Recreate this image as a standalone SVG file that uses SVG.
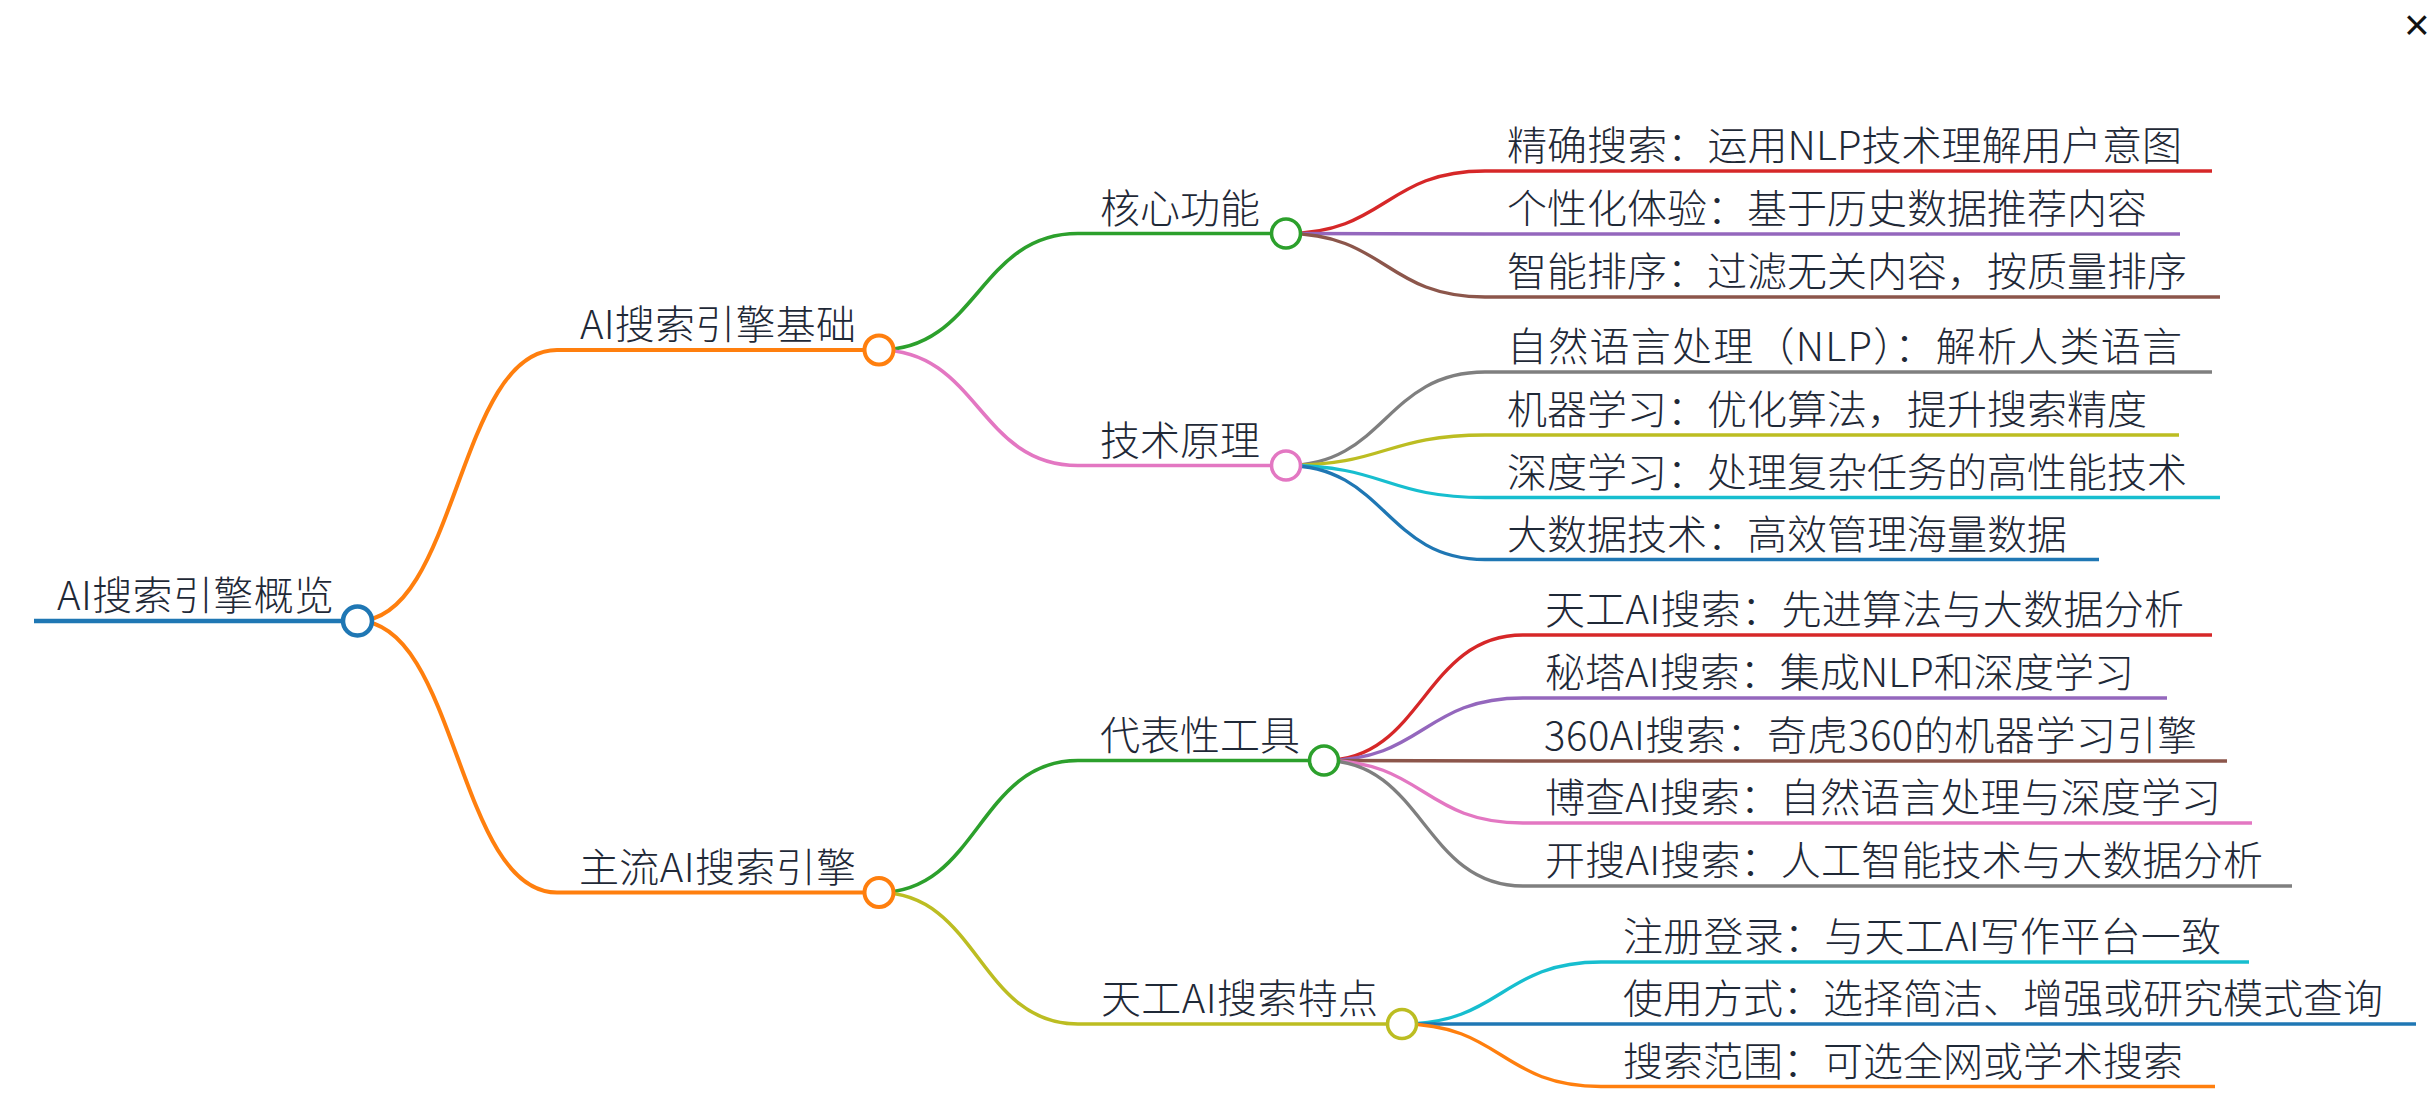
<svg xmlns="http://www.w3.org/2000/svg" width="2432" height="1098" viewBox="0 0 2432 1098">
<style>
text{font-family:"Noto Sans CJK SC","Noto Sans",sans-serif;font-size:40px;font-weight:200;fill:#1f2937}
.ln{fill:none;stroke-linecap:butt}
.lk{fill:none}
.c{fill:#fff}
.d0{stroke-width:4.5}.d1{stroke-width:4}.d2{stroke-width:3.6}.d3{stroke-width:3.3}
.blue{stroke:#1f77b4}.orange{stroke:#ff7f0e}.green{stroke:#2ca02c}.red{stroke:#d62728}.purple{stroke:#9467bd}.brown{stroke:#8c564b}.pink{stroke:#e377c2}.gray{stroke:#7f7f7f}.olive{stroke:#bcbd22}.cyan{stroke:#17becf}
</style>
<rect width="2432" height="1098" fill="#fff"/>
<g id="connectors">
<path class="lk d1 orange" d="M357.5,621 C457.25,621 457.25,350 557,350"/>
<path class="lk d1 orange" d="M357.5,621 C457.25,621 457.25,892.5 557,892.5"/>
<path class="lk d2 green" d="M879,350 C978.5,350 978.5,233.5 1078,233.5"/>
<path class="lk d2 pink" d="M879,350 C978.5,350 978.5,465.5 1078,465.5"/>
<path class="lk d2 green" d="M879,892.5 C978.5,892.5 978.5,760.5 1078,760.5"/>
<path class="lk d2 olive" d="M879,892.5 C978.5,892.5 978.5,1024 1078,1024"/>
<path class="lk d3 red" d="M1286,233.5 C1385.5,233.5 1385.5,171 1485,171"/>
<path class="lk d3 purple" d="M1286,233.5 C1385.5,233.5 1385.5,234 1485,234"/>
<path class="lk d3 brown" d="M1286,233.5 C1385.5,233.5 1385.5,297 1485,297"/>
<path class="lk d3 gray" d="M1286,465.5 C1385.5,465.5 1385.5,372 1485,372"/>
<path class="lk d3 olive" d="M1286,465.5 C1385.5,465.5 1385.5,435 1485,435"/>
<path class="lk d3 cyan" d="M1286,465.5 C1385.5,465.5 1385.5,497.5 1485,497.5"/>
<path class="lk d3 blue" d="M1286,465.5 C1385.5,465.5 1385.5,559.5 1485,559.5"/>
<path class="lk d3 red" d="M1324,760.5 C1423.5,760.5 1423.5,635 1523,635"/>
<path class="lk d3 purple" d="M1324,760.5 C1423.5,760.5 1423.5,698 1523,698"/>
<path class="lk d3 brown" d="M1324,760.5 C1423.5,760.5 1423.5,761 1523,761"/>
<path class="lk d3 pink" d="M1324,760.5 C1423.5,760.5 1423.5,823 1523,823"/>
<path class="lk d3 gray" d="M1324,760.5 C1423.5,760.5 1423.5,886 1523,886"/>
<path class="lk d3 cyan" d="M1402,1024 C1501.5,1024 1501.5,962 1601,962"/>
<path class="lk d3 blue" d="M1402,1024 C1501.5,1024 1501.5,1024 1601,1024"/>
<path class="lk d3 orange" d="M1402,1024 C1501.5,1024 1501.5,1086.5 1601,1086.5"/>
</g>
<g id="n-root"><line class="ln d0 blue" x1="34" y1="621" x2="357.5" y2="621"/><text x="57" y="610" textLength="277" lengthAdjust="spacing">AI搜索引擎概览</text><circle class="c d0 blue" cx="357.5" cy="621" r="14.5"/></g>
<g id="n-basics"><line class="ln d1 orange" x1="557" y1="350" x2="879" y2="350"/><text x="580" y="339" textLength="276" lengthAdjust="spacing">AI搜索引擎基础</text><circle class="c d1 orange" cx="879" cy="350" r="14.5"/></g>
<g id="n-mainstream"><line class="ln d1 orange" x1="557" y1="892.5" x2="879" y2="892.5"/><text x="579" y="881.5" textLength="277" lengthAdjust="spacing">主流AI搜索引擎</text><circle class="c d1 orange" cx="879" cy="892.5" r="14.5"/></g>
<g id="n-core"><line class="ln d2 green" x1="1078" y1="233.5" x2="1286" y2="233.5"/><text x="1100" y="222.5">核心功能</text><circle class="c d2 green" cx="1286" cy="233.5" r="14.5"/></g>
<g id="n-tech"><line class="ln d2 pink" x1="1078" y1="465.5" x2="1286" y2="465.5"/><text x="1100" y="454.5">技术原理</text><circle class="c d2 pink" cx="1286" cy="465.5" r="14.5"/></g>
<g id="n-tools"><line class="ln d2 green" x1="1078" y1="760.5" x2="1324" y2="760.5"/><text x="1100" y="749.5">代表性工具</text><circle class="c d2 green" cx="1324" cy="760.5" r="14.5"/></g>
<g id="n-tiangong"><line class="ln d2 olive" x1="1078" y1="1024" x2="1402" y2="1024"/><text x="1101" y="1013" textLength="277" lengthAdjust="spacing">天工AI搜索特点</text><circle class="c d2 olive" cx="1402" cy="1024" r="14.5"/></g>
<g id="n-c1"><line class="ln d3 red" x1="1485" y1="171" x2="2212" y2="171"/><text x="1507" y="160" textLength="675" lengthAdjust="spacing">精确搜索：运用NLP技术理解用户意图</text></g>
<g id="n-c2"><line class="ln d3 purple" x1="1485" y1="234" x2="2180" y2="234"/><text x="1507" y="223">个性化体验：基于历史数据推荐内容</text></g>
<g id="n-c3"><line class="ln d3 brown" x1="1485" y1="297" x2="2220" y2="297"/><text x="1507" y="286">智能排序：过滤无关内容，按质量排序</text></g>
<g id="n-t1"><line class="ln d3 gray" x1="1485" y1="372" x2="2212" y2="372"/><text x="1507" y="361" textLength="675" lengthAdjust="spacing">自然语言处理（NLP）：解析人类语言</text></g>
<g id="n-t2"><line class="ln d3 olive" x1="1485" y1="435" x2="2179" y2="435"/><text x="1507" y="424">机器学习：优化算法，提升搜索精度</text></g>
<g id="n-t3"><line class="ln d3 cyan" x1="1485" y1="497.5" x2="2220" y2="497.5"/><text x="1507" y="486.5">深度学习：处理复杂任务的高性能技术</text></g>
<g id="n-t4"><line class="ln d3 blue" x1="1485" y1="559.5" x2="2099" y2="559.5"/><text x="1507" y="548.5">大数据技术：高效管理海量数据</text></g>
<g id="n-s1"><line class="ln d3 red" x1="1523" y1="635" x2="2212" y2="635"/><text x="1545" y="624" textLength="639" lengthAdjust="spacing">天工AI搜索：先进算法与大数据分析</text></g>
<g id="n-s2"><line class="ln d3 purple" x1="1523" y1="698" x2="2167" y2="698"/><text x="1545" y="687" textLength="589" lengthAdjust="spacing">秘塔AI搜索：集成NLP和深度学习</text></g>
<g id="n-s3"><line class="ln d3 brown" x1="1523" y1="761" x2="2227" y2="761"/><text x="1544" y="750" textLength="653" lengthAdjust="spacing">360AI搜索：奇虎360的机器学习引擎</text></g>
<g id="n-s4"><line class="ln d3 pink" x1="1523" y1="823" x2="2252" y2="823"/><text x="1545" y="812" textLength="676" lengthAdjust="spacing">博查AI搜索：自然语言处理与深度学习</text></g>
<g id="n-s5"><line class="ln d3 gray" x1="1523" y1="886" x2="2292" y2="886"/><text x="1545" y="875" textLength="718" lengthAdjust="spacing">开搜AI搜索：人工智能技术与大数据分析</text></g>
<g id="n-f1"><line class="ln d3 cyan" x1="1601" y1="962" x2="2249" y2="962"/><text x="1623" y="951" textLength="598" lengthAdjust="spacing">注册登录：与天工AI写作平台一致</text></g>
<g id="n-f2"><line class="ln d3 blue" x1="1601" y1="1024" x2="2416" y2="1024"/><text x="1623" y="1013">使用方式：选择简洁、增强或研究模式查询</text></g>
<g id="n-f3"><line class="ln d3 orange" x1="1601" y1="1086.5" x2="2215" y2="1086.5"/><text x="1623" y="1075.5">搜索范围：可选全网或学术搜索</text></g>
<text x="2404" y="40" style="font-family:'Liberation Sans',sans-serif;font-size:44px;font-weight:400;fill:#111">×</text>
</svg>
